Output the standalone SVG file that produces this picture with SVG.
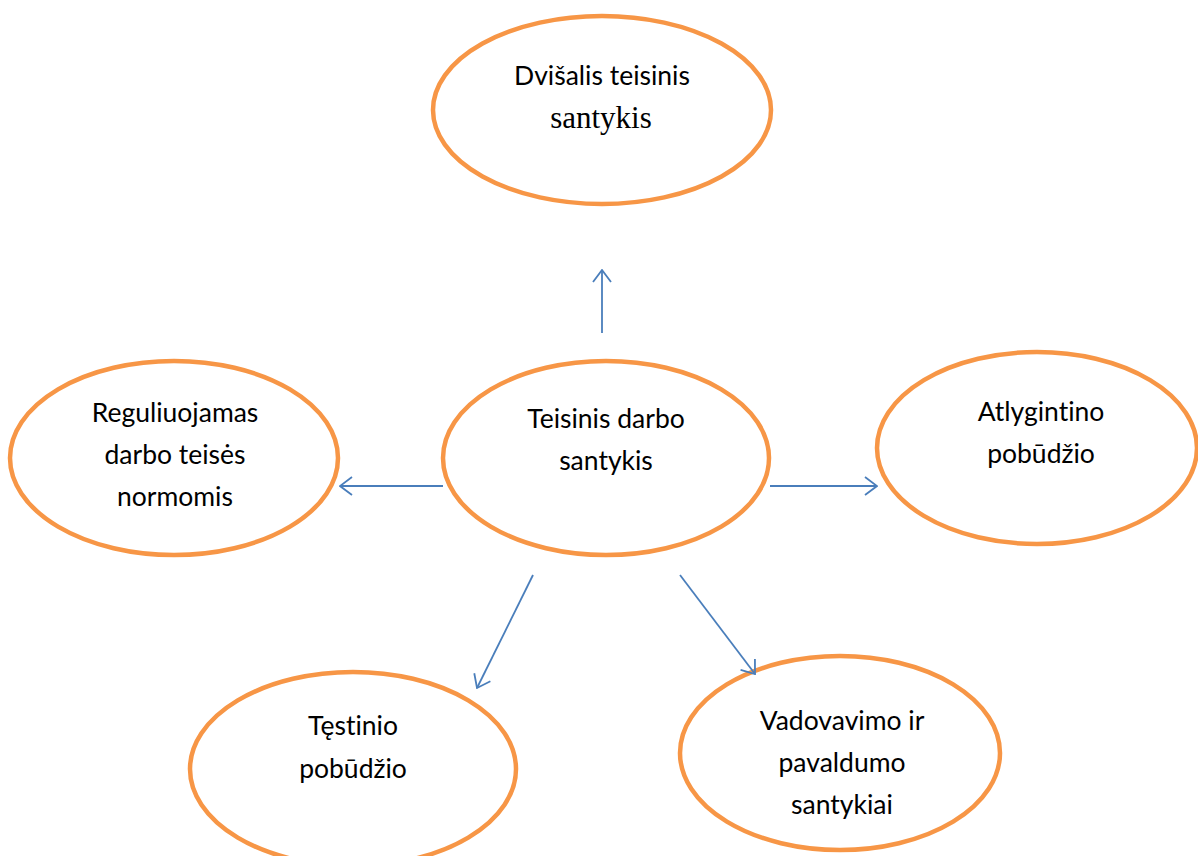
<svg xmlns="http://www.w3.org/2000/svg" width="1198" height="856" viewBox="0 0 1198 856">
<style>
.node ellipse{fill:#fff;stroke:#F79646;stroke-width:4.5}
.t{font-family:Lato,"Open Sans",sans-serif;font-size:26.5px;fill:#000;text-anchor:middle;font-variant-ligatures:none}
.s{font-family:"Liberation Serif",serif;font-size:31px;fill:#000;text-anchor:middle}
.c line{stroke:#4A7EBB;stroke-width:1.8;fill:none}
</style>
<defs>
<marker id="ah" viewBox="0 0 14 20" refX="13" refY="10" markerWidth="14" markerHeight="20" markerUnits="userSpaceOnUse" orient="auto">
<path d="M1,1 L13,10 L1,19" fill="none" stroke="#4A7EBB" stroke-width="1.8"/>
</marker>
</defs>
<rect width="1198" height="856" fill="#fff"/>
<g id="top" class="node">
<ellipse cx="602" cy="110" rx="169" ry="94"/>
<text class="t" x="602" y="85">Dvišalis teisinis</text>
<text class="s" x="601" y="128">santykis</text>
</g>
<g id="center" class="node">
<ellipse cx="606" cy="458" rx="163" ry="97"/>
<text class="t" x="606" y="428">Teisinis darbo</text>
<text class="t" x="606" y="470">santykis</text>
</g>
<g id="left" class="node">
<ellipse cx="174" cy="458" rx="164" ry="97"/>
<text class="t" x="175" y="422">Reguliuojamas</text>
<text class="t" x="175" y="464">darbo teisės</text>
<text class="t" x="175" y="506">normomis</text>
</g>
<g id="right" class="node">
<ellipse cx="1037" cy="448" rx="160" ry="96"/>
<text class="t" x="1041" y="421">Atlygintino</text>
<text class="t" x="1041" y="463">pobūdžio</text>
</g>
<g id="bottomleft" class="node">
<ellipse cx="353" cy="769" rx="163" ry="97"/>
<text class="t" x="353" y="735">Tęstinio</text>
<text class="t" x="353" y="778">pobūdžio</text>
</g>
<g id="bottomright" class="node">
<ellipse cx="840" cy="753" rx="160" ry="97"/>
<text class="t" x="842" y="730">Vadovavimo ir</text>
<text class="t" x="842" y="772">pavaldumo</text>
<text class="t" x="842" y="814">santykiai</text>
</g>
<g id="connectors" class="c">
<line x1="602" y1="333" x2="602" y2="270" marker-end="url(#ah)"/>
<line x1="443" y1="486" x2="340" y2="486" marker-end="url(#ah)"/>
<line x1="770" y1="486" x2="877" y2="486" marker-end="url(#ah)"/>
<line x1="533" y1="575" x2="477" y2="688" marker-end="url(#ah)"/>
<line x1="680" y1="575" x2="755" y2="674" marker-end="url(#ah)"/>
</g>
</svg>
